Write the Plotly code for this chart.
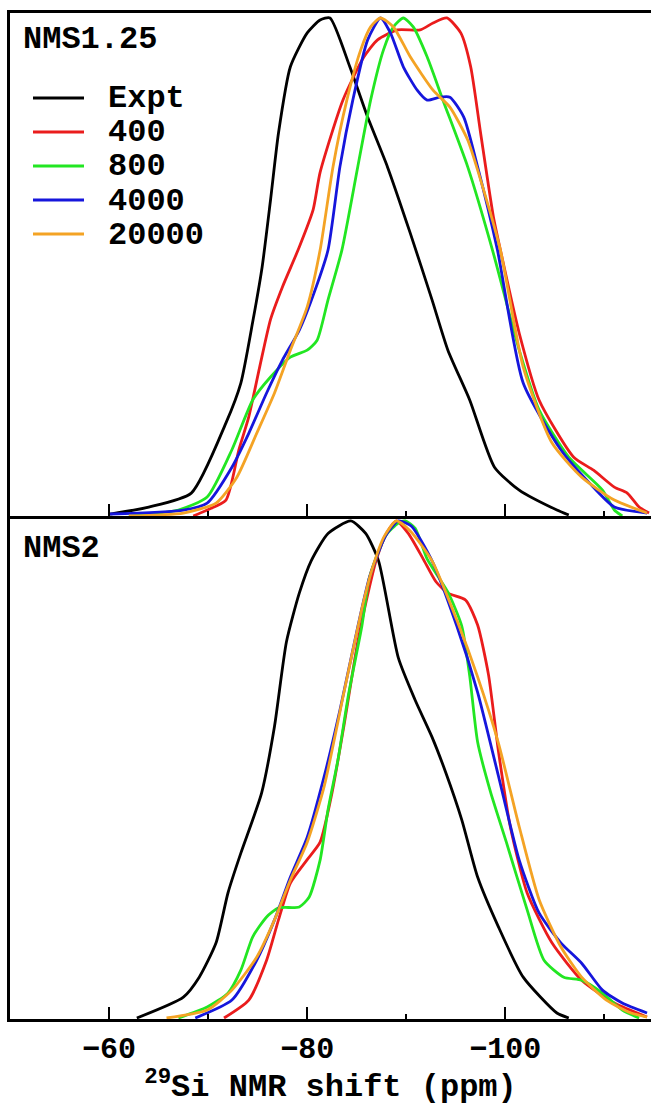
import plotly.graph_objects as go

# ---------------- data ----------------
x_range = [-50, -114.7]
major_ticks = [-60, -80, -100]
series_names = ["Expt", "400", "800", "4000", "20000"]
series_colors = ["#000000", "#ea1c1c", "#22e622", "#1616dc", "#f4a324"]
panel_labels = ["NMS1.25", "NMS2"]

# top panel (NMS1.25)
top_expt_x = [-60.1, -64.0, -68.3, -71.8, -73.3, -74.5, -75.45, -76.3, -77.1, -78.3, -80.0, -81.3, -82.3,
              -84.3, -86.1, -88.1, -90.4, -92.6, -94.2, -96.4, -98.9, -101.4, -105.2, -106.4]
top_expt_y = [0.004, 0.018, 0.046, 0.187, 0.267, 0.390, 0.500, 0.635, 0.769, 0.902, 0.970, 0.996, 1.0,
              0.902, 0.801, 0.701, 0.568, 0.434, 0.333, 0.233, 0.098, 0.052, 0.012, 0.002]
top_400_x = [-68.5, -69.9, -71.8, -73.1, -74.1, -75.2, -76.3, -77.5, -79.2, -80.6, -81.3, -83.6, -85.7,
             -87.1, -89.1, -91.4, -92.7, -94.1, -95.5, -96.5, -97.5, -98.8, -99.5, -101.4, -103.4,
             -106.9, -108.9, -111.0, -112.3, -113.5, -114.5]
top_400_y = [0.0, 0.012, 0.032, 0.133, 0.199, 0.299, 0.395, 0.460, 0.540, 0.615, 0.690, 0.835, 0.921,
             0.956, 0.976, 0.976, 0.990, 1.0, 0.970, 0.902, 0.769, 0.600, 0.534, 0.367, 0.233,
             0.118, 0.092, 0.058, 0.046, 0.018, 0.006]
top_800_x = [-62.0, -67.0, -69.9, -72.4, -74.5, -76.3, -78.3, -80.0, -81.0, -82.1, -83.5, -85.1, -86.4,
             -87.7, -88.7, -89.7, -90.7, -92.1, -93.7, -96.2, -98.7, -101.4, -103.4, -106.4, -109.8,
             -111.0, -111.8]
top_800_y = [0.0, 0.012, 0.038, 0.133, 0.233, 0.279, 0.319, 0.333, 0.353, 0.434, 0.534, 0.701, 0.835,
             0.936, 0.982, 1.0, 0.982, 0.922, 0.835, 0.701, 0.534, 0.333, 0.213, 0.118, 0.052,
             0.012, 0.0]
top_4000_x = [-60.1, -67.5, -69.9, -72.4, -74.1, -75.9, -77.5, -79.2, -80.8, -82.1, -83.3, -84.6, -86.1,
              -87.4, -88.4, -89.7, -91.1, -92.1, -93.4, -94.4, -95.8, -97.2, -99.2, -101.8, -105.6,
              -108.5, -111.0, -114.3]
top_4000_y = [0.004, 0.012, 0.026, 0.098, 0.166, 0.247, 0.313, 0.373, 0.454, 0.534, 0.701, 0.835, 0.956,
              1.0, 0.970, 0.902, 0.855, 0.835, 0.841, 0.841, 0.801, 0.701, 0.534, 0.267, 0.133,
              0.066, 0.018, 0.006]
top_20000_x = [-62.0, -67.5, -70.8, -72.9, -74.9, -76.7, -78.3, -80.0, -81.3, -82.6, -84.0, -85.4, -86.4,
               -87.4, -88.7, -90.4, -92.7, -94.4, -96.2, -97.8, -99.5, -101.8, -104.7, -107.7, -111.0,
               -114.3]
top_20000_y = [0.0, 0.006, 0.026, 0.078, 0.166, 0.247, 0.333, 0.420, 0.534, 0.701, 0.835, 0.936, 0.982,
               1.0, 0.982, 0.922, 0.855, 0.821, 0.755, 0.655, 0.534, 0.299, 0.147, 0.078, 0.032,
               0.006]

# bottom panel (NMS2)
bot_expt_x = [-62.8, -67.5, -69.1, -70.8, -72.0, -73.3, -74.5, -75.4, -76.7, -77.9, -79.2, -80.4, -82.1,
              -84.4, -85.9, -87.2, -89.2, -90.9, -92.6, -94.0, -95.6, -97.2, -99.3, -101.8, -105.2, -106.4]
bot_expt_y = [0.002, 0.044, 0.084, 0.153, 0.253, 0.333, 0.400, 0.454, 0.588, 0.757, 0.855, 0.920, 0.975,
              1.0, 0.975, 0.920, 0.725, 0.640, 0.566, 0.494, 0.400, 0.285, 0.185, 0.084, 0.012, 0.002]
bot_400_x = [-71.6, -74.1, -75.9, -77.1, -78.3, -80.0, -81.3, -82.5, -83.7, -85.1, -86.3, -87.0, -88.0,
             -89.0, -90.2, -91.7, -93.0, -94.2, -96.0, -97.2, -98.3, -99.3, -100.5, -102.2, -104.7,
             -107.7, -111.0, -114.3]
bot_400_y = [0.002, 0.038, 0.118, 0.199, 0.273, 0.320, 0.355, 0.454, 0.588, 0.757, 0.869, 0.924, 0.975,
             1.0, 0.975, 0.924, 0.878, 0.855, 0.841, 0.791, 0.691, 0.538, 0.386, 0.253, 0.153,
             0.078, 0.032, 0.004]
bot_800_x = [-67.0, -69.9, -72.0, -73.3, -74.5, -75.9, -77.1, -79.2, -80.2, -81.3, -82.1, -83.1, -84.2,
             -85.5, -86.3, -87.9, -89.2, -89.9, -90.9, -92.1, -94.2, -95.6, -96.4, -97.2, -98.5,
             -100.1, -102.2, -103.9, -105.9, -107.7, -109.8, -111.8, -113.5]
bot_800_y = [0.002, 0.024, 0.052, 0.098, 0.165, 0.205, 0.223, 0.225, 0.245, 0.319, 0.420, 0.520, 0.655,
             0.787, 0.888, 0.970, 0.996, 1.0, 0.985, 0.924, 0.857, 0.789, 0.689, 0.556, 0.456,
             0.355, 0.219, 0.118, 0.084, 0.078, 0.052, 0.018, 0.002]
bot_4000_x = [-68.7, -72.4, -74.9, -76.7, -78.3, -80.0, -81.7, -83.3, -85.1, -86.3, -87.9, -89.2, -90.5,
              -92.6, -95.1, -97.2, -99.3, -101.4, -103.4, -105.6, -107.7, -109.8, -111.8, -114.3]
bot_4000_y = [0.002, 0.038, 0.118, 0.199, 0.285, 0.365, 0.486, 0.620, 0.787, 0.888, 0.970, 1.0, 0.990,
              0.920, 0.789, 0.656, 0.488, 0.319, 0.213, 0.153, 0.112, 0.058, 0.032, 0.012]
bot_20000_x = [-65.8, -69.9, -72.4, -74.9, -76.7, -78.3, -80.0, -81.7, -83.7, -85.5, -86.5, -87.8, -89.0,
               -90.4, -92.6, -95.1, -97.2, -99.3, -101.4, -103.4, -105.6, -107.7, -110.2, -112.7, -114.3]
bot_20000_y = [0.002, 0.018, 0.058, 0.124, 0.199, 0.279, 0.355, 0.466, 0.655, 0.822, 0.900, 0.970, 1.0,
               0.980, 0.920, 0.801, 0.687, 0.554, 0.386, 0.240, 0.145, 0.084, 0.038, 0.012, 0.004]

top_series = [(top_expt_x, top_expt_y), (top_400_x, top_400_y), (top_800_x, top_800_y),
              (top_4000_x, top_4000_y), (top_20000_x, top_20000_y)]
bot_series = [(bot_expt_x, bot_expt_y), (bot_400_x, bot_400_y), (bot_800_x, bot_800_y),
              (bot_4000_x, bot_4000_y), (bot_20000_x, bot_20000_y)]

# ---------------- figure ----------------
W, H = 651, 1106
ML, MR, MT, MB = 10, 0, 13, 87
PW, PH = W - ML - MR, H - MT - MB
FONT = "Courier New, Liberation Mono, monospace"


def px(xp):
    return (xp - ML) / PW


def py(yp):
    return (H - MB - yp) / PH


fig = go.Figure()
for (xs, ys), name, col in zip(top_series, series_names, series_colors):
    fig.add_trace(go.Scatter(x=xs, y=ys, mode="lines", name=name, xaxis="x2", yaxis="y2",
                             line=dict(color=col, width=2.8, shape="spline", smoothing=0.6),
                             showlegend=False))
for (xs, ys), name, col in zip(bot_series, series_names, series_colors):
    fig.add_trace(go.Scatter(x=xs, y=ys, mode="lines", name=name, xaxis="x", yaxis="y",
                             line=dict(color=col, width=2.8, shape="spline", smoothing=0.6),
                             showlegend=False))

axis_common = dict(range=x_range, tickmode="array", tickvals=major_ticks,
                   ticks="inside", ticklen=12, tickwidth=2, tickcolor="black",
                   minor=dict(tickmode="array", tickvals=[-50, -70, -90, -110], ticks="inside",
                              ticklen=5, tickwidth=2, tickcolor="black"),
                   showline=True, linecolor="black", linewidth=2.5,
                   showgrid=False, zeroline=False)

fig.update_layout(
    width=W, height=H,
    margin=dict(l=ML, r=MR, t=MT, b=MB),
    plot_bgcolor="white", paper_bgcolor="white",
    xaxis=dict(**axis_common, anchor="y", domain=[0, 1],
               ticktext=["−60", "−80", "−100"],
               tickfont=dict(family=FONT, size=30, color="black", weight="bold"),
               title=dict(text="<sup>29</sup>Si NMR shift (ppm)", standoff=18,
                          font=dict(family=FONT, size=32, color="black", weight="bold"))),
    xaxis2=dict(**axis_common, anchor="y2", matches="x", showticklabels=False, mirror=True),
    yaxis=dict(domain=[0, 0.5], range=[0, 1.01], showticklabels=False, ticks="",
               showline=True, linecolor="black", linewidth=2.5, showgrid=False, zeroline=False),
    yaxis2=dict(domain=[0.5, 1], range=[0, 1.01], showticklabels=False, ticks="",
                showline=True, linecolor="black", linewidth=2.5, showgrid=False, zeroline=False),
)

annotations = []
shapes = []
# panel labels
for label, yp in zip(panel_labels, [40, 549]):
    annotations.append(dict(text=label, xref="paper", yref="paper", x=px(21), y=py(yp),
                            xanchor="left", yanchor="middle", showarrow=False,
                            font=dict(family=FONT, size=32, color="black", weight="bold")))
# legend
for i, (name, col) in enumerate(zip(series_names, series_colors)):
    yp = 98 + 34 * i
    shapes.append(dict(type="line", xref="paper", yref="paper", x0=px(33), x1=px(84),
                       y0=py(yp), y1=py(yp), line=dict(color=col, width=2.8)))
    annotations.append(dict(text=name, xref="paper", yref="paper", x=px(106), y=py(yp + 1),
                            xanchor="left", yanchor="middle", showarrow=False,
                            font=dict(family=FONT, size=32, color="black", weight="bold")))

fig.update_layout(annotations=annotations, shapes=shapes)
fig.write_html("out.html", config={"displayModeBar": False},
               post_script="document.body.style.margin='0';document.body.style.overflow='hidden';")
